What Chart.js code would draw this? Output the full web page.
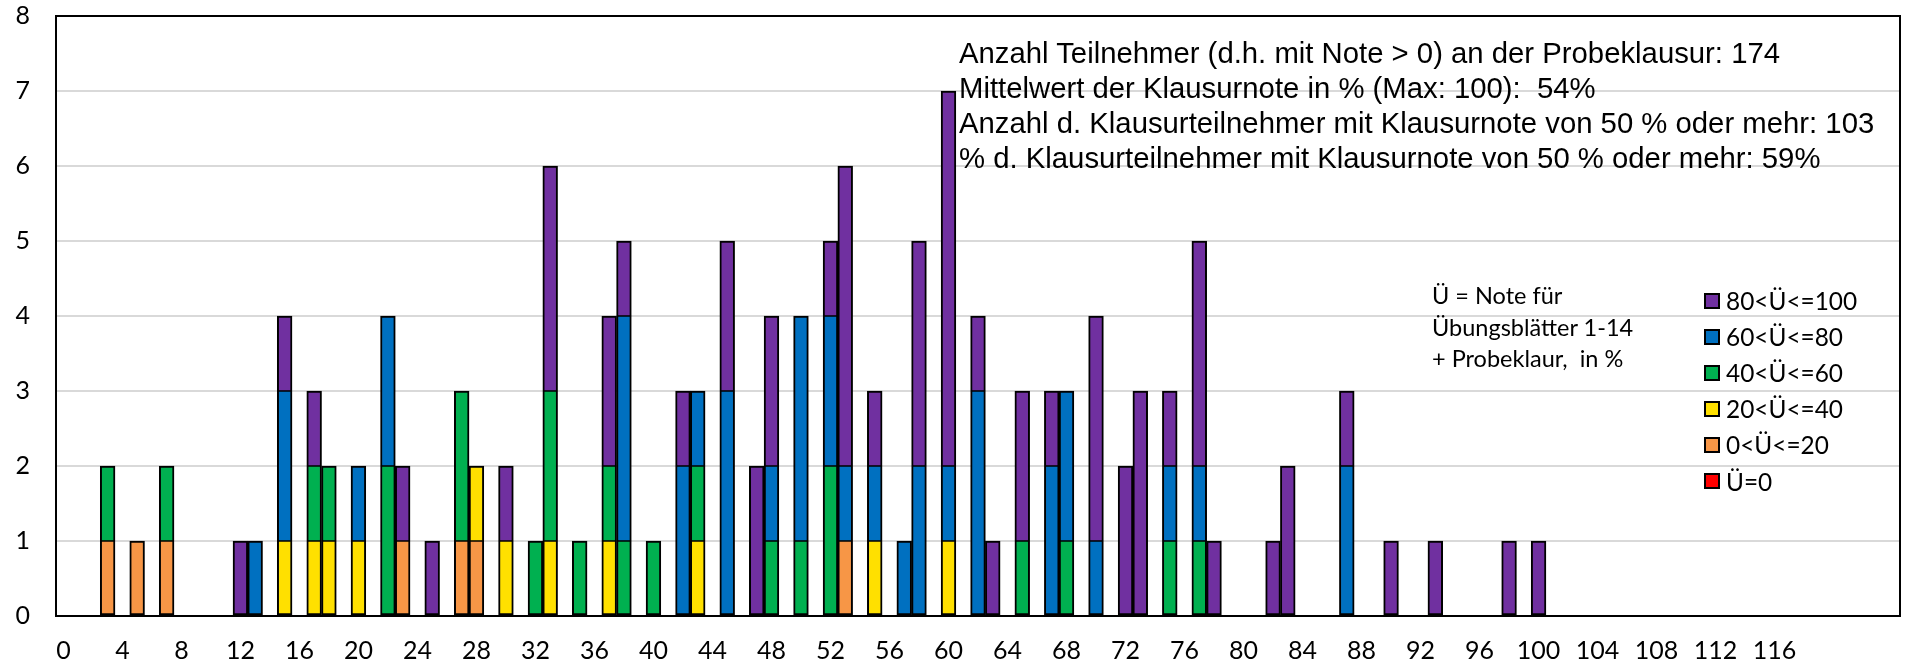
<!DOCTYPE html>
<html>
<head>
<meta charset="utf-8">
<script src="https://cdn.jsdelivr.net/npm/chart.js@4"></script>
<style>
  html, body { margin: 0; padding: 0; background: #fff; }
  #wrap { position: relative; width: 1908px; height: 668px; }
  #note { position: absolute; left: 959px; top: 35px; font-family: "Liberation Sans", Arial, sans-serif; font-size: 29.3px; line-height: 35px; color: #000; white-space: nowrap; }
  #legTitle { position: absolute; left: 1432px; top: 280px; font-family: Lato, "Open Sans", sans-serif; font-size: 23.5px; line-height: 31.5px; color: #000; white-space: nowrap; }
  .leg { position: absolute; left: 1704px; height: 36px; display: flex; align-items: center; font-family: Lato, "Open Sans", sans-serif; font-size: 24.4px; color: #000; white-space: nowrap; }
  .leg .box { width: 12px; height: 12px; border: 2px solid #000; margin-right: 6px; }
</style>
</head>
<body>
<div id="wrap">
  <canvas id="c"></canvas>
  <div id="note">Anzahl Teilnehmer (d.h. mit Note &gt; 0) an der Probeklausur: 174<br>Mittelwert der Klausurnote in % (Max: 100):&nbsp; 54%<br>Anzahl d. Klausurteilnehmer mit Klausurnote von 50 % oder mehr: 103<br>% d. Klausurteilnehmer mit Klausurnote von 50 % oder mehr: 59%</div>
  <div id="legTitle">Ü = Note für<br>Übungsblätter 1-14<br>+ Probeklaur,&nbsp; in %</div>
</div>
<script>
// Categories: exam score in % (0..124), ticks labelled every 4 up to 116
const categories = Array.from({ length: 125 }, (_, i) => i);
const tickLabels = [0,4,8,12,16,20,24,28,32,36,40,44,48,52,56,60,64,68,72,76,80,84,88,92,96,100,104,108,112,116];

// Series values: {score: count}
const u0 = {};  // Ü=0
const u0_20 = {3:1, 5:1, 7:1, 23:1, 27:1, 28:1, 53:1};
const u20_40 = {15:1, 17:1, 18:1, 20:1, 28:1, 30:1, 33:1, 37:1, 43:1, 55:1, 60:1};
const u40_60 = {3:1, 7:1, 17:1, 18:1, 22:2, 27:2, 32:1, 33:2, 35:1, 37:1, 38:1, 40:1, 43:1, 48:1, 50:1, 52:2, 65:1, 68:1, 75:1, 77:1};
const u60_80 = {13:1, 15:2, 20:1, 22:2, 38:3, 42:2, 43:1, 45:3, 48:1, 50:3, 52:2, 53:1, 55:1, 57:1, 58:2, 60:1, 62:3, 67:2, 68:2, 70:1, 75:1, 77:1, 87:2};
const u80_100 = {12:1, 15:1, 17:1, 23:1, 25:1, 30:1, 33:3, 37:2, 38:1, 42:1, 45:2, 47:2, 48:2, 52:1, 53:4, 55:1, 58:3, 60:5, 62:1, 63:1, 65:2, 67:1, 70:3, 72:2, 73:3, 75:1, 77:3, 78:1, 82:1, 83:2, 87:1, 90:1, 93:1, 98:1, 100:1};

const seriesNames = ['Ü=0', '0<Ü<=20', '20<Ü<=40', '40<Ü<=60', '60<Ü<=80', '80<Ü<=100'];
const seriesData = [u0, u0_20, u20_40, u40_60, u60_80, u80_100];
const seriesColors = ['#FF0000', '#F79646', '#FFE000', '#00B050', '#0070C0', '#7030A0'];

// thinner inner edges where stacked segments touch, so shared edges look like one line
function segBorder(ctx) {
  const i = ctx.dataIndex, k = ctx.datasetIndex, ds = ctx.chart.data.datasets;
  let top = 2, bottom = 2;
  for (let j = k + 1; j < ds.length; j++) if (ds[j].data[i] != null) top = 1;
  for (let j = 0; j < k; j++) if (ds[j].data[i] != null) bottom = 1;
  return { left: 2, right: 2, top, bottom };
}

const datasets = seriesNames.map((name, k) => ({
  label: name,
  data: categories.map(c => seriesData[k][c] != null ? seriesData[k][c] : null),
  backgroundColor: seriesColors[k],
  borderColor: '#000',
  borderWidth: segBorder,
  borderSkipped: false,
  barPercentage: 1.0,
  categoryPercentage: 1.0
}));

const frame = {
  id: 'frame',
  afterDatasetsDraw(chart) {
    const a = chart.chartArea, ctx = chart.ctx;
    ctx.save();
    ctx.strokeStyle = '#000';
    ctx.lineWidth = 2;
    ctx.strokeRect(a.left, a.top, a.right - a.left, a.bottom - a.top);
    ctx.restore();
  }
};

const tickFont = { family: 'Lato, "Open Sans", sans-serif', size: 25 };

new Chart(document.getElementById('c'), {
  type: 'bar',
  data: { labels: categories, datasets },
  options: {
    responsive: true,
    maintainAspectRatio: false,
    animation: false,
    layout: { padding: { top: 16, right: 8, left: 0, bottom: 0 } },
    plugins: { legend: { display: false }, tooltip: { enabled: false } },
    scales: {
      x: {
        stacked: true,
        grid: { display: false, drawTicks: false },
        border: { display: true, color: '#000', width: 2 },
        ticks: {
          autoSkip: false, maxRotation: 0, minRotation: 0, padding: 20,
          color: '#000', font: tickFont,
          callback: (v, i) => tickLabels.includes(categories[i]) ? String(categories[i]) : ''
        },
        afterFit: s => { s.height = 52; s.paddingLeft = 0; s.paddingRight = 0; }
      },
      y: {
        stacked: true, min: 0, max: 8,
        grid: { color: ctx => (ctx.tick.value === 0 || ctx.tick.value === 8) ? 'rgba(0,0,0,0)' : '#D9D9D9', lineWidth: 2, drawTicks: false },
        border: { display: true, color: '#000', width: 2 },
        ticks: { stepSize: 1, padding: 26, color: '#000', font: tickFont },
        afterFit: s => { s.width = 56; s.paddingTop = 12; s.paddingBottom = 12; }
      }
    }
  },
  plugins: [frame]
});

// legend (top item = last series)
const wrap = document.getElementById('wrap');
for (let k = seriesNames.length - 1, row = 0; k >= 0; k--, row++) {
  const d = document.createElement('div');
  d.className = 'leg';
  d.style.top = (282.5 + row * 36.1) + 'px';
  d.innerHTML = '<span class="box" style="background:' + seriesColors[k] + '"></span><span>' + seriesNames[k].replace(/</g, '&lt;') + '</span>';
  wrap.appendChild(d);
}
</script>
</body>
</html>
